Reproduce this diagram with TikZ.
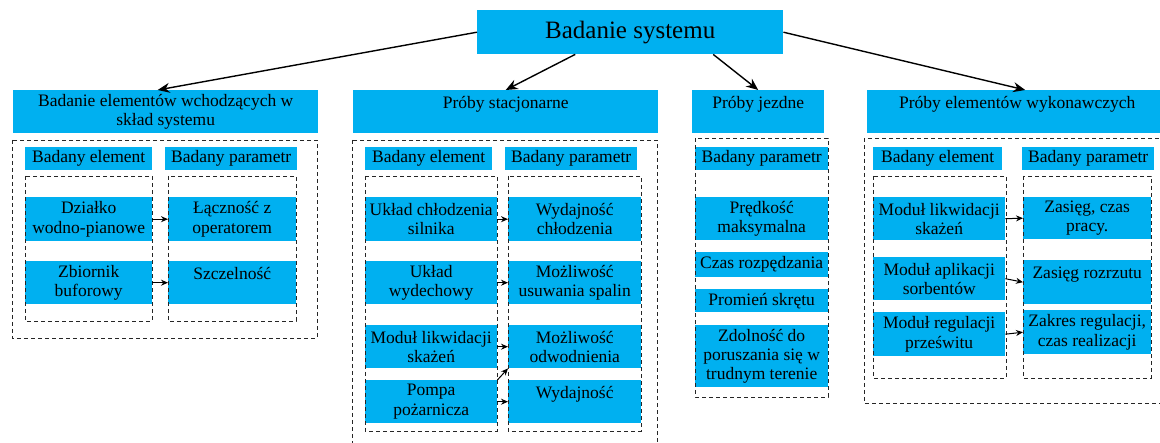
\documentclass[tikz,border=0pt]{standalone}
\usepackage{fontspec}
\setmainfont{Liberation Serif}
\usetikzlibrary{arrows.meta}
\definecolor{niebieski}{HTML}{00B0F0}
\tikzset{
	pole/.style={fill=niebieski, inner sep=0pt, anchor=north west, align=center, font=\fontsize{17.5}{19.3}\selectfont},
	ramka/.style={dash pattern=on 4pt off 3pt, line width=0.9pt, black!85},
	strz/.style={-{Stealth[length=7pt,width=6pt]}, line width=1pt},
	glowna/.style={-{Stealth[length=12pt,width=10pt]}, line width=1.4pt}
}
\begin{document}
\begin{tikzpicture}[x=1pt,y=-1pt]
	\useasboundingbox (0,0) rectangle (1160,443);
	% Wezel glowny
	\node[pole, minimum width=306pt, minimum height=44pt, font=\fontsize{25}{28}\selectfont] (sys) at (477,10) {Badanie systemu};
	% Naglowki drugiego poziomu
	\node[pole, minimum width=305pt, minimum height=43pt] (h1) at (13,90) {Badanie elementów wchodzących w\\skład systemu};
	\node[pole, minimum width=305pt, minimum height=43pt] (h2) at (353,90) {Próby stacjonarne\\\mbox{}};
	\node[pole, minimum width=132pt, minimum height=43pt] (h3) at (692,90) {Próby jezdne\\\mbox{}};
	\node[pole, minimum width=300pt, minimum height=43pt] (h4) at (867,90) {Próby elementów wykonawczych\\\mbox{}};
	\draw[glowna] (sys.west) -- ([xshift=-8pt]h1.north);
	\draw[glowna] ([xshift=-55pt]sys.south) -- (h2.north);
	\draw[glowna] ([xshift=83pt]sys.south) -- (h3.north);
	\draw[glowna] (sys.east) -- ([xshift=8pt]h4.north);

	% Grupa 1
	\node[pole, minimum width=127pt, minimum height=23pt] (be1) at (25,147) {Badany element};
	\node[pole, minimum width=132pt, minimum height=23pt] (bp1) at (165,147) {Badany parametr};
	\node[pole, minimum width=127pt, minimum height=44pt] (e11) at (25,197) {Działko\\wodno-pianowe};
	\node[pole, minimum width=127pt, minimum height=43pt] (e12) at (25,261) {Zbiornik\\buforowy};
	\node[pole, minimum width=128pt, minimum height=44pt] (p11) at (168,197) {Łączność z\\operatorem};
	\node[pole, minimum width=128pt, minimum height=43pt] (p12) at (168,261) {Szczelność\\\mbox{}};
	\draw[ramka] (12,140) rectangle (317,338);
	\draw[ramka] (25,176) rectangle (152,321);
	\draw[ramka] (168,176) rectangle (296,321);
	\draw[strz] (e11.east) -- (p11.west);
	\draw[strz] (e12.east) -- (p12.west);

	% Grupa 2
	\node[pole, minimum width=127pt, minimum height=23pt] (be2) at (365,147) {Badany element};
	\node[pole, minimum width=132pt, minimum height=23pt] (bp2) at (505,147) {Badany parametr};
	\node[pole, minimum width=132pt, minimum height=44pt] (e21) at (365,197) {Układ chłodzenia\\silnika};
	\node[pole, minimum width=132pt, minimum height=43pt] (e22) at (365,261) {Układ\\wydechowy};
	\node[pole, minimum width=132pt, minimum height=43pt] (e23) at (365,325) {Moduł likwidacji\\skażeń};
	\node[pole, minimum width=132pt, minimum height=43pt] (e24) at (365,380) {Pompa\\pożarnicza};
	\node[pole, minimum width=133pt, minimum height=44pt] (p21) at (508,197) {Wydajność\\chłodzenia};
	\node[pole, minimum width=133pt, minimum height=43pt] (p22) at (508,261) {Możliwość\\usuwania spalin};
	\node[pole, minimum width=133pt, minimum height=43pt] (p23) at (508,325) {Możliwość\\odwodnienia};
	\node[pole, minimum width=133pt, minimum height=43pt] (p24) at (508,380) {Wydajność\\\mbox{}};
	\draw[ramka] (352,140) rectangle (657,450);
	\draw[ramka] (365,176) rectangle (497,431);
	\draw[ramka] (508,176) rectangle (641,431);
	\draw[strz] (e21.east) -- (p21.west);
	\draw[strz] (e22.east) -- (p22.west);
	\draw[strz] (e23.east) -- (p23.west);
	\draw[strz] (e24.north east) -- (p23.south west);
	\draw[strz] (e24.east) -- (p24.west);

	% Grupa 3
	\node[pole, minimum width=133pt, minimum height=23pt] (bp3) at (695,147) {Badany parametr};
	\node[pole, minimum width=133pt, minimum height=43pt] (p31) at (695,197) {Prędkość\\maksymalna};
	\node[pole, minimum width=133pt, minimum height=25pt] (p32) at (695,252) {Czas rozpędzania};
	\node[pole, minimum width=133pt, minimum height=23pt] (p33) at (695,289) {Promień skrętu};
	\node[pole, minimum width=133pt, minimum height=62pt] (p34) at (695,325) {Zdolność do\\poruszania się w\\trudnym terenie};
	\draw[ramka] (695,138) rectangle (828,397);

	% Grupa 4
	\node[pole, minimum width=129pt, minimum height=23pt] (be4) at (873,147) {Badany element};
	\node[pole, minimum width=132pt, minimum height=23pt] (bp4) at (1022,147) {Badany parametr};
	\node[pole, minimum width=132pt, minimum height=43pt] (e41) at (873,197) {Moduł likwidacji\\skażeń};
	\node[pole, minimum width=132pt, minimum height=43pt] (e42) at (873,257) {Moduł aplikacji\\sorbentów};
	\node[pole, minimum width=132pt, minimum height=44pt] (e43) at (873,312) {Moduł regulacji\\prześwitu};
	\node[pole, minimum width=128pt, minimum height=42pt] (p41) at (1023,197) {Zasięg, czas\\pracy.};
	\node[pole, minimum width=128pt, minimum height=44pt] (p42) at (1023,260) {Zasięg rozrzutu\\\mbox{}};
	\node[pole, minimum width=128pt, minimum height=44pt] (p43) at (1023,310) {Zakres regulacji,\\czas realizacji};
	\draw[ramka] (864,138) rectangle (1170,403);
	\draw[ramka] (873,176) rectangle (1006,378);
	\draw[ramka] (1023,176) rectangle (1151,378);
	\draw[strz] (e41.east) -- (p41.west);
	\draw[strz] (e42.east) -- (p42.west);
	\draw[strz] (e43.east) -- (p43.west);
\end{tikzpicture}
\end{document}
